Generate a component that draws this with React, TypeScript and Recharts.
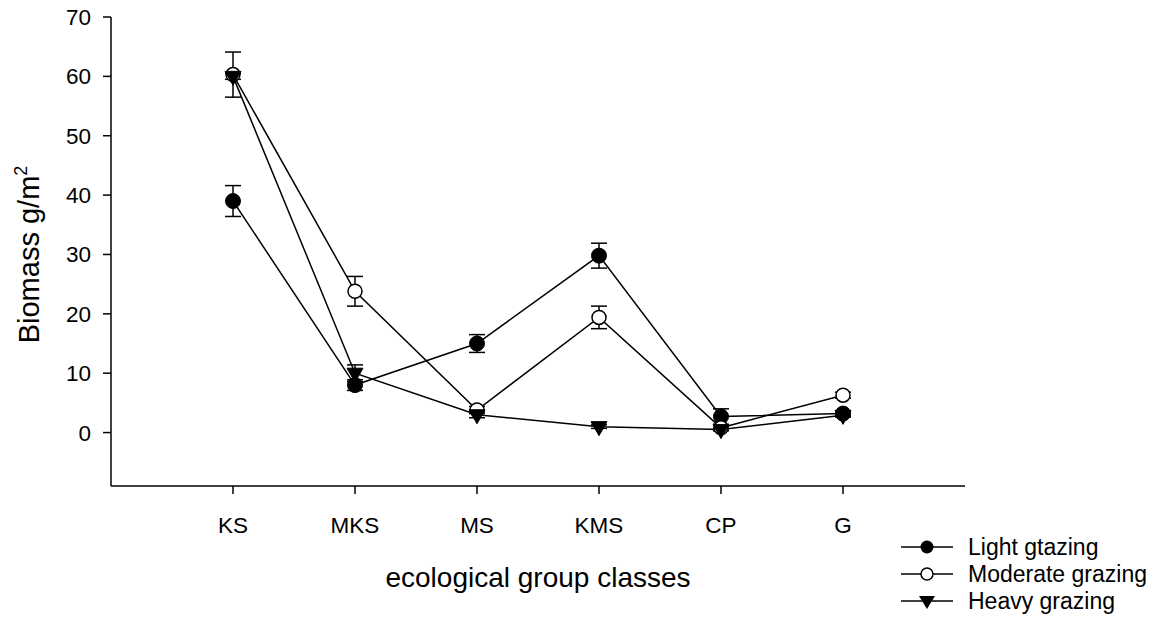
import React from 'react';
import { LineChart, Line, XAxis, YAxis, ErrorBar } from 'recharts';

const categories = ['KS', 'MKS', 'MS', 'KMS', 'CP', 'G'];
const lightValues = [39.0, 8.0, 15.0, 29.8, 2.7, 3.2];
const lightErrors = [2.6, 0.9, 1.5, 2.1, 1.3, 0.4];
const moderateValues = [60.3, 23.8, 3.8, 19.4, 0.8, 6.3];
const moderateErrors = [3.8, 2.5, 0.6, 1.9, 0.4, 0.5];
const heavyValues = [60.0, 10.0, 3.0, 1.0, 0.5, 2.9];
const heavyErrors = [0.5, 1.4, 0.5, 0.3, 0.2, 0.3];
const yTicks = [0, 10, 20, 30, 40, 50, 60, 70];
const legendLabels = ['Light gtazing', 'Moderate grazing', 'Heavy grazing'];

const data = categories.map((c, i) => ({
  x: i + 1,
  name: c,
  light: lightValues[i],
  lightErr: lightErrors[i],
  moderate: moderateValues[i],
  moderateErr: moderateErrors[i],
  heavy: heavyValues[i],
  heavyErr: heavyErrors[i],
}));

const FONT = '"Liberation Sans", Arial, sans-serif';

const FilledDot = (props: any) => {
  const { cx, cy, index } = props;
  if (cx == null || cy == null) return null;
  return <circle key={`f${index}`} cx={cx} cy={cy} r={7.5} fill="#000" stroke="#000" strokeWidth={1} />;
};
const OpenDot = (props: any) => {
  const { cx, cy, index } = props;
  if (cx == null || cy == null) return null;
  return <circle key={`o${index}`} cx={cx} cy={cy} r={7} fill="#fff" stroke="#000" strokeWidth={1.5} />;
};
const TriDot = (props: any) => {
  const { cx, cy, index } = props;
  if (cx == null || cy == null) return null;
  return (
    <polygon
      key={`t${index}`}
      points={`${cx - 8},${cy - 5} ${cx + 8},${cy - 5} ${cx},${cy + 9}`}
      fill="#000"
      stroke="#000"
      strokeWidth={1}
    />
  );
};

const YLabel = (props: any) => {
  const vb = props.viewBox || {};
  const cy = (vb.y ?? 17) + (vb.height ?? 469) / 2 + 3;
  const x = 39;
  return (
    <text
      x={x}
      y={cy}
      transform={`rotate(-90, ${x}, ${cy})`}
      textAnchor="middle"
      fontFamily={FONT}
      fontSize={29}
      fill="#000"
    >
      Biomass g/m
      <tspan dy={-12} fontSize={18}>2</tspan>
    </text>
  );
};

const XLabel = (props: any) => {
  const vb = props.viewBox || {};
  const cx = (vb.x ?? 111) + (vb.width ?? 854) / 2;
  return (
    <text x={cx} y={587} textAnchor="middle" fontFamily={FONT} fontSize={28} fill="#000">
      ecological group classes
    </text>
  );
};

const LegendBox = () => {
  const rowY = [17, 44, 71];
  return (
    <svg width={264} height={92} style={{ position: 'absolute', left: 895, top: 530, display: 'block' }}>
      {legendLabels.map((lab, i) => {
        const y = rowY[i];
        const cx = 32;
        return (
          <g key={lab}>
            <line x1={6} y1={y} x2={58} y2={y} stroke="#000" strokeWidth={1.5} />
            {i === 0 && <circle cx={cx} cy={y} r={6.5} fill="#000" />}
            {i === 1 && <circle cx={cx} cy={y} r={6} fill="#fff" stroke="#000" strokeWidth={1.5} />}
            {i === 2 && (
              <polygon points={`${cx - 8},${y - 5} ${cx + 8},${y - 5} ${cx},${y + 8}`} fill="#000" />
            )}
            <text x={73} y={y + 8} fontFamily={FONT} fontSize={23} fill="#000">
              {lab}
            </text>
          </g>
        );
      })}
    </svg>
  );
};

export default function App() {
  return (
    <div style={{ position: 'absolute', left: 0, top: 0, width: 1159, height: 622, background: '#fff' }}>
      <LineChart
        width={1159}
        height={622}
        data={data}
        margin={{ top: 17, right: 194, bottom: 106, left: 51 }}
      >
        <XAxis
          dataKey="x"
          type="number"
          domain={[0, 7]}
          ticks={[1, 2, 3, 4, 5, 6]}
          tickFormatter={(v: number) => categories[v - 1] ?? ''}
          height={30}
          tickSize={8}
          tickMargin={23}
          axisLine={{ stroke: '#000', strokeWidth: 1.5 }}
          tickLine={{ stroke: '#000', strokeWidth: 1.5 }}
          tick={{ fill: '#000', fontSize: 22.5, fontFamily: FONT }}
          label={<XLabel />}
          allowDataOverflow
        />
        <YAxis
          type="number"
          domain={[-9, 70]}
          ticks={yTicks}
          width={60}
          tickSize={8}
          tickMargin={12}
          axisLine={{ stroke: '#000', strokeWidth: 1.5 }}
          tickLine={{ stroke: '#000', strokeWidth: 1.5 }}
          tick={{ fill: '#000', fontSize: 22.5, fontFamily: FONT }}
          label={<YLabel />}
          allowDataOverflow
        />
        <Line
          dataKey="light"
          stroke="#000"
          strokeWidth={1.5}
          dot={<FilledDot />}
          activeDot={false}
          isAnimationActive={false}
        >
          <ErrorBar dataKey="lightErr" width={8} stroke="#000" strokeWidth={1.5} direction="y" />
        </Line>
        <Line
          dataKey="moderate"
          stroke="#000"
          strokeWidth={1.5}
          dot={<OpenDot />}
          activeDot={false}
          isAnimationActive={false}
        >
          <ErrorBar dataKey="moderateErr" width={8} stroke="#000" strokeWidth={1.5} direction="y" />
        </Line>
        <Line
          dataKey="heavy"
          stroke="#000"
          strokeWidth={1.5}
          dot={<TriDot />}
          activeDot={false}
          isAnimationActive={false}
        >
          <ErrorBar dataKey="heavyErr" width={8} stroke="#000" strokeWidth={1.5} direction="y" />
        </Line>
      </LineChart>
      <LegendBox />
    </div>
  );
}
